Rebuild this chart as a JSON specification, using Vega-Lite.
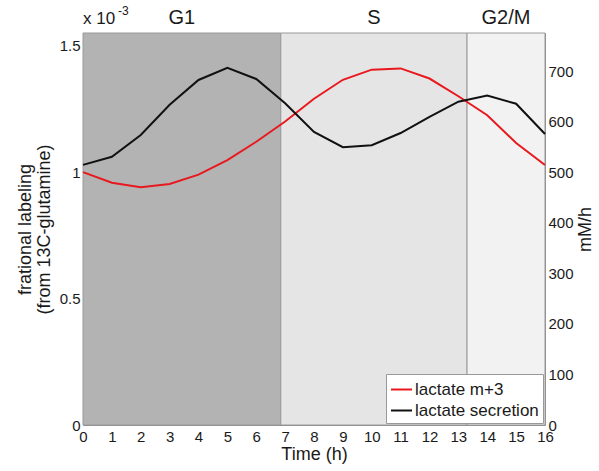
{
  "$schema": "https://vega.github.io/schema/vega-lite/v6.json",
  "width": 462,
  "height": 392,
  "autosize": {"type": "none"},
  "padding": {"left": 83, "top": 33, "right": 54, "bottom": 46},
  "background": "white",
  "config": {
    "font": "Liberation Sans",
    "view": {"stroke": "#8c8c8c", "strokeWidth": 1},
    "axis": {"grid": false, "ticks": false, "domain": false, "labelFontSize": 15, "titleFontSize": 18, "titleFontWeight": "normal", "labelColor": "#1a1a1a", "titleColor": "#1a1a1a"}
  },
  "datasets": {
    "series": [
      {"hour": 0, "series": "lactate m+3", "value": 1.0},
      {"hour": 1, "series": "lactate m+3", "value": 0.958},
      {"hour": 2, "series": "lactate m+3", "value": 0.94},
      {"hour": 3, "series": "lactate m+3", "value": 0.953},
      {"hour": 4, "series": "lactate m+3", "value": 0.99},
      {"hour": 5, "series": "lactate m+3", "value": 1.047},
      {"hour": 6, "series": "lactate m+3", "value": 1.12},
      {"hour": 7, "series": "lactate m+3", "value": 1.2},
      {"hour": 8, "series": "lactate m+3", "value": 1.29},
      {"hour": 9, "series": "lactate m+3", "value": 1.365},
      {"hour": 10, "series": "lactate m+3", "value": 1.405},
      {"hour": 11, "series": "lactate m+3", "value": 1.41},
      {"hour": 12, "series": "lactate m+3", "value": 1.37},
      {"hour": 13, "series": "lactate m+3", "value": 1.3},
      {"hour": 14, "series": "lactate m+3", "value": 1.225},
      {"hour": 15, "series": "lactate m+3", "value": 1.115},
      {"hour": 16, "series": "lactate m+3", "value": 1.028},
      {"hour": 0, "series": "lactate secretion", "value": 515},
      {"hour": 1, "series": "lactate secretion", "value": 531},
      {"hour": 2, "series": "lactate secretion", "value": 574},
      {"hour": 3, "series": "lactate secretion", "value": 634},
      {"hour": 4, "series": "lactate secretion", "value": 683},
      {"hour": 5, "series": "lactate secretion", "value": 707},
      {"hour": 6, "series": "lactate secretion", "value": 685},
      {"hour": 7, "series": "lactate secretion", "value": 637},
      {"hour": 8, "series": "lactate secretion", "value": 580},
      {"hour": 9, "series": "lactate secretion", "value": 550},
      {"hour": 10, "series": "lactate secretion", "value": 554},
      {"hour": 11, "series": "lactate secretion", "value": 578},
      {"hour": 12, "series": "lactate secretion", "value": 610},
      {"hour": 13, "series": "lactate secretion", "value": 640},
      {"hour": 14, "series": "lactate secretion", "value": 652},
      {"hour": 15, "series": "lactate secretion", "value": 636},
      {"hour": 16, "series": "lactate secretion", "value": 576}
    ],
    "phases": [
      {"phase": "G1", "start": 0, "end": 6.85},
      {"phase": "S", "start": 6.85, "end": 13.3},
      {"phase": "G2/M", "start": 13.3, "end": 16}
    ]
  },
  "encoding": {
    "x": {"field": "hour", "type": "quantitative", "scale": {"domain": [0, 16], "nice": false, "zero": false},
          "axis": {"values": [0,1,2,3,4,5,6,7,8,9,10,11,12,13,14,15,16], "labelOverlap": false, "title": "Time (h)", "labelPadding": 4, "titlePadding": 1, "labelFlush": false}}
  },
  "resolve": {"scale": {"y": "independent"}},
  "layer": [
    {
      "layer": [
        {
          "data": {"name": "phases"},
          "mark": {"type": "rect", "stroke": "#9a9a9a", "strokeWidth": 1},
          "encoding": {
            "x": {"field": "start", "type": "quantitative"},
            "x2": {"field": "end"},
            "fill": {"field": "phase", "type": "nominal", "scale": {"domain": ["G1", "S", "G2/M"], "range": ["#b3b3b3", "#e5e5e5", "#f2f2f2"]}, "legend": null}
          }
        },
        {
          "data": {"name": "phases"},
          "transform": [{"calculate": "(datum.start + datum.end) / 2", "as": "hour"}],
          "mark": {"type": "text", "fontSize": 20, "baseline": "bottom", "dy": -5, "color": "#1a1a1a"},
          "encoding": {
            "y": {"datum": 1.55},
            "text": {"field": "phase"}
          }
        },
        {
          "data": {"values": [{"label": "x 10"}]},
          "transform": [{"calculate": "0", "as": "hour"}],
          "mark": {"type": "text", "fontSize": 17, "align": "left", "baseline": "bottom", "dy": -5, "color": "#1a1a1a"},
          "encoding": {"y": {"datum": 1.55}, "text": {"field": "label"}}
        },
        {
          "data": {"values": [{"label": "-3"}]},
          "transform": [{"calculate": "0", "as": "hour"}],
          "mark": {"type": "text", "fontSize": 12, "align": "left", "baseline": "bottom", "dx": 35, "dy": -15, "color": "#1a1a1a"},
          "encoding": {"y": {"datum": 1.55}, "text": {"field": "label"}}
        },
        {
          "data": {"name": "series"},
          "transform": [{"filter": "datum.series == 'lactate m+3'"}],
          "mark": {"type": "line", "strokeWidth": 2},
          "encoding": {
            "y": {"field": "value", "type": "quantitative", "scale": {"domain": [0, 1.55], "nice": false},
                  "axis": {"values": [0, 0.5, 1, 1.5], "format": "~g", "title": ["frational labeling", "(from 13C-glutamine)"], "titleLineHeight": 19, "labelPadding": 3, "titlePadding": 6, "labelFlush": false}},
            "color": {"field": "series", "type": "nominal",
                      "scale": {"domain": ["lactate m+3", "lactate secretion"], "range": ["#e8191e", "#111111"]},
                      "legend": {"title": null, "orient": "bottom-right", "offset": 2, "fillColor": "white", "strokeColor": "#999999", "padding": 4, "symbolType": "stroke", "symbolSize": 441, "symbolStrokeWidth": 2, "labelFontSize": 17, "rowPadding": 1, "labelOffset": 2, "labelColor": "#1a1a1a"}}
          }
        }
      ]
    },
    {
      "data": {"name": "series"},
      "transform": [{"filter": "datum.series == 'lactate secretion'"}],
      "mark": {"type": "line", "strokeWidth": 2},
      "encoding": {
        "y": {"field": "value", "type": "quantitative", "scale": {"domain": [0, 776], "nice": false},
              "axis": {"orient": "right", "values": [0,100,200,300,400,500,600,700], "format": "d", "title": "mM/h", "titleAngle": 270, "titleBaseline": "top", "labelPadding": 3, "titlePadding": 3, "labelFlush": false}},
        "color": {"field": "series", "type": "nominal"}
      }
    }
  ]
}
